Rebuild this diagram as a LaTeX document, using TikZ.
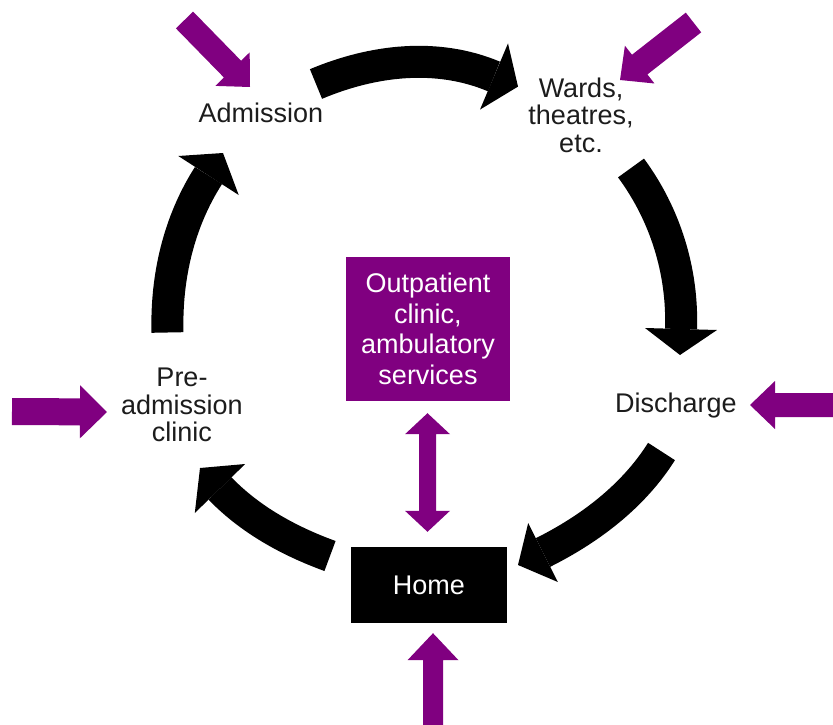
\documentclass[tikz,border=0pt]{standalone}
\usepackage{fontspec}
\setmainfont{Liberation Sans}
\usetikzlibrary{calc}

\definecolor{plum}{RGB}{128,0,128}
\definecolor{ink}{RGB}{28,28,28}

% Straight block arrow: #1 tail, #2 tip, #3 half shaft width,
% #4 half head width, #5 head length
\newcommand\blockarrow[5]{%
  \coordinate (bahead) at ($(#2)!#5!(#1)$);
  \fill[plum] (#2)
    -- ($(bahead)!#4!90:(#2)$) -- ($(bahead)!#3!90:(#2)$)
    -- ($(#1)!#3!90:(#2)$) -- ($(#1)!#3!-90:(#2)$)
    -- ($(bahead)!#3!-90:(#2)$) -- ($(bahead)!#4!-90:(#2)$) -- cycle;
}

% Block arrow with a head at both ends: #1 and #2 tips, #3 half shaft,
% #4 half head width, #5 head length
\newcommand\twowayarrow[5]{%
  \coordinate (twa) at ($(#1)!#5!(#2)$);
  \coordinate (twb) at ($(#2)!#5!(#1)$);
  \fill[plum] (#1)
    -- ($(twa)!#4!90:(#2)$) -- ($(twa)!#3!90:(#2)$)
    -- ($(twb)!#3!90:(#2)$) -- ($(twb)!#4!90:(#2)$)
    -- (#2)
    -- ($(twb)!#4!-90:(#2)$) -- ($(twb)!#3!-90:(#2)$)
    -- ($(twa)!#3!-90:(#2)$) -- ($(twa)!#4!-90:(#2)$) -- cycle;
}

\tikzset{
  lbl/.style={font=\fontsize{27}{27.5}\selectfont, text=ink, align=center, inner sep=0pt},
  boxlbl/.style={font=\fontsize{27}{30.5}\selectfont, text=white, align=center, inner sep=0pt},
  loopband/.style={line width=32pt, black, line cap=butt},
}

\begin{document}
\begin{tikzpicture}[x=1pt, y=-1pt]
  \fill[white] (0,0) rectangle (833,725);
  \useasboundingbox (0,0) rectangle (833,725);

  % stages of the cycle
  \node[lbl] (adm) at (261,113) {Admission};
  \node[lbl] (wards) at (581,115) {Wards,\\theatres,\\etc.};
  \node[lbl] (dis) at (676,406) {Discharge};
  \node[lbl] (pre) at (182,405) {Pre-\\admission\\clinic};
  \node[boxlbl, fill=plum, minimum width=164pt, minimum height=144pt]
    (outp) at (428,329) {Outpatient\\clinic,\\ambulatory\\services};
  \node[boxlbl, fill=black, minimum width=156pt, minimum height=76pt]
    (home) at (429,585) {Home};

  % Admission -> Wards
  \coordinate (aw-s) at (316,84);   \coordinate (aw-e) at (494,76.5);
  \coordinate (aw-t) at (518,86.6);
  \draw[loopband] (aw-s) .. controls (373,60) and (437,52.5) .. (aw-e);
  \fill (aw-t) -- (508,43.4) -- (480,109.6) -- cycle;

  % Wards -> Discharge
  \coordinate (wd-s) at (631,168);  \coordinate (wd-e) at (681,329);
  \coordinate (wd-t) at (680,355);
  \draw[loopband] (wd-s) .. controls (665,214) and (683,271) .. (wd-e);
  \fill (wd-t) -- (717,330) -- (645,328) -- cycle;

  % Discharge -> Home
  \coordinate (dh-s) at (661.5,451.5); \coordinate (dh-e) at (543,552.5);
  \coordinate (dh-t) at (518,565);
  \draw[loopband] (dh-s) .. controls (633.5,496) and (590,529) .. (dh-e);
  \fill (dh-t) -- (557.8,582) -- (528.2,523) -- cycle;

  % Home -> Pre-admission clinic
  \coordinate (hp-s) at (330,556);  \coordinate (hp-e) at (220,488.5);
  \coordinate (hp-t) at (200,468);
  \draw[loopband] (hp-s) .. controls (289,541) and (250.5,520) .. (hp-e);
  \fill (hp-t) -- (245.2,464) -- (194.8,513) -- cycle;

  % Pre-admission clinic -> Admission
  \coordinate (pa-s) at (167.5,332.5); \coordinate (pa-e) at (208.5,175.5);
  \coordinate (pa-t) at (223,153);
  \draw[loopband] (pa-s) .. controls (166,277) and (178.7,222) .. (pa-e);
  \fill (pa-t) -- (238.7,195) -- (178.3,156) -- cycle;

  % entry points into the cycle
  \coordinate (in-adm) at (184.5,20);   \coordinate (to-adm) at (250,87);
  \coordinate (in-wards) at (693.5,22.5); \coordinate (to-wards) at (620,80);
  \coordinate (in-dis) at (833,405);    \coordinate (to-dis) at (750,405);
  \coordinate (in-pre) at (12,411.5);   \coordinate (to-pre) at (107,412);
  \coordinate (in-home) at (433,725);
  \coordinate (to-home) at ($(home.south)+(4,10)$);
  \blockarrow{in-adm}{to-adm}{12pt}{24pt}{25pt}
  \blockarrow{in-wards}{to-wards}{12.5pt}{24pt}{25pt}
  \blockarrow{in-dis}{to-dis}{12pt}{24pt}{25pt}
  \blockarrow{in-pre}{to-pre}{13.5pt}{26.5pt}{27pt}
  \blockarrow{in-home}{to-home}{10pt}{25.5pt}{27pt}

  % link between home and outpatient services
  \coordinate (op-end) at ($(outp.south)+(-0.5,12)$);
  \coordinate (hm-end) at ($(home.north)+(-1.5,-15)$);
  \twowayarrow{op-end}{hm-end}{8.5pt}{22.5pt}{21pt}
\end{tikzpicture}
\end{document}
